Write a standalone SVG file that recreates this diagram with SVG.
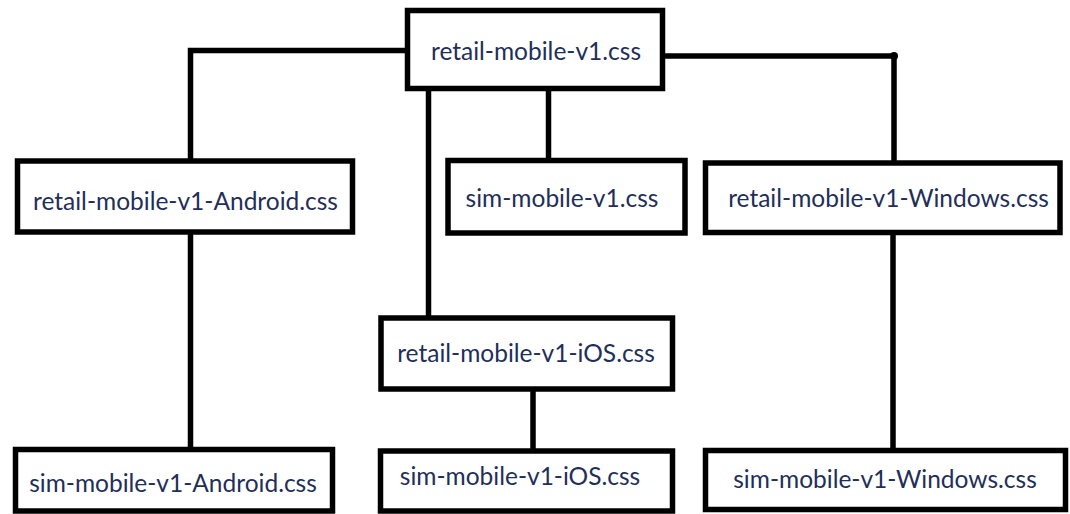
<svg xmlns="http://www.w3.org/2000/svg" width="1070" height="514" viewBox="0 0 1070 514">
<style>
.box{fill:#fff;stroke:#000;stroke-width:5.5}
.lbl{font-family:"Lato","Open Sans",sans-serif;font-size:24.5px;fill:#1f2f5a;text-anchor:middle}
.con{fill:none;stroke:#000;stroke-width:5.5}
</style>
<rect width="1070" height="514" fill="#fff"/>
<g id="connectors">
<polyline class="con" points="407,50.5 190.5,50.5 190.5,161"/>
<polyline class="con" points="662,56 894,56 894,163"/>
<line class="con" x1="428.5" y1="88" x2="428.5" y2="318"/>
<line class="con" x1="548.5" y1="88" x2="548.5" y2="160"/>
<line class="con" x1="190.5" y1="232" x2="190.5" y2="449"/>
<line class="con" x1="893" y1="232" x2="893" y2="450"/>
<line class="con" x1="533" y1="389" x2="533" y2="451"/>
<circle cx="894" cy="56" r="4" fill="#000"/>
</g>
<g id="n-retail"><rect class="box" x="407.5" y="10.5" width="255" height="78"/><text class="lbl" x="536" y="60">retail-mobile-v1.css</text></g>
<g id="n-android"><rect class="box" x="17.5" y="161" width="335" height="71"/><text class="lbl" x="185.5" y="210">retail-mobile-v1-Android.css</text></g>
<g id="n-sim"><rect class="box" x="448" y="160.5" width="237" height="72.5"/><text class="lbl" x="562" y="207">sim-mobile-v1.css</text></g>
<g id="n-windows"><rect class="box" x="705.5" y="163" width="354.5" height="69.5"/><text class="lbl" x="888.5" y="207">retail-mobile-v1-Windows.css</text></g>
<g id="n-ios"><rect class="box" x="381" y="318" width="291.5" height="71"/><text class="lbl" x="526" y="362">retail-mobile-v1-iOS.css</text></g>
<g id="n-sim-android"><rect class="box" x="15.5" y="449.5" width="317" height="61.5"/><text class="lbl" x="173" y="492">sim-mobile-v1-Android.css</text></g>
<g id="n-sim-ios"><rect class="box" x="380.5" y="451" width="292" height="60"/><text class="lbl" x="520" y="485">sim-mobile-v1-iOS.css</text></g>
<g id="n-sim-windows"><rect class="box" x="705.5" y="450.5" width="360" height="59"/><text class="lbl" x="885" y="488">sim-mobile-v1-Windows.css</text></g>
</svg>
